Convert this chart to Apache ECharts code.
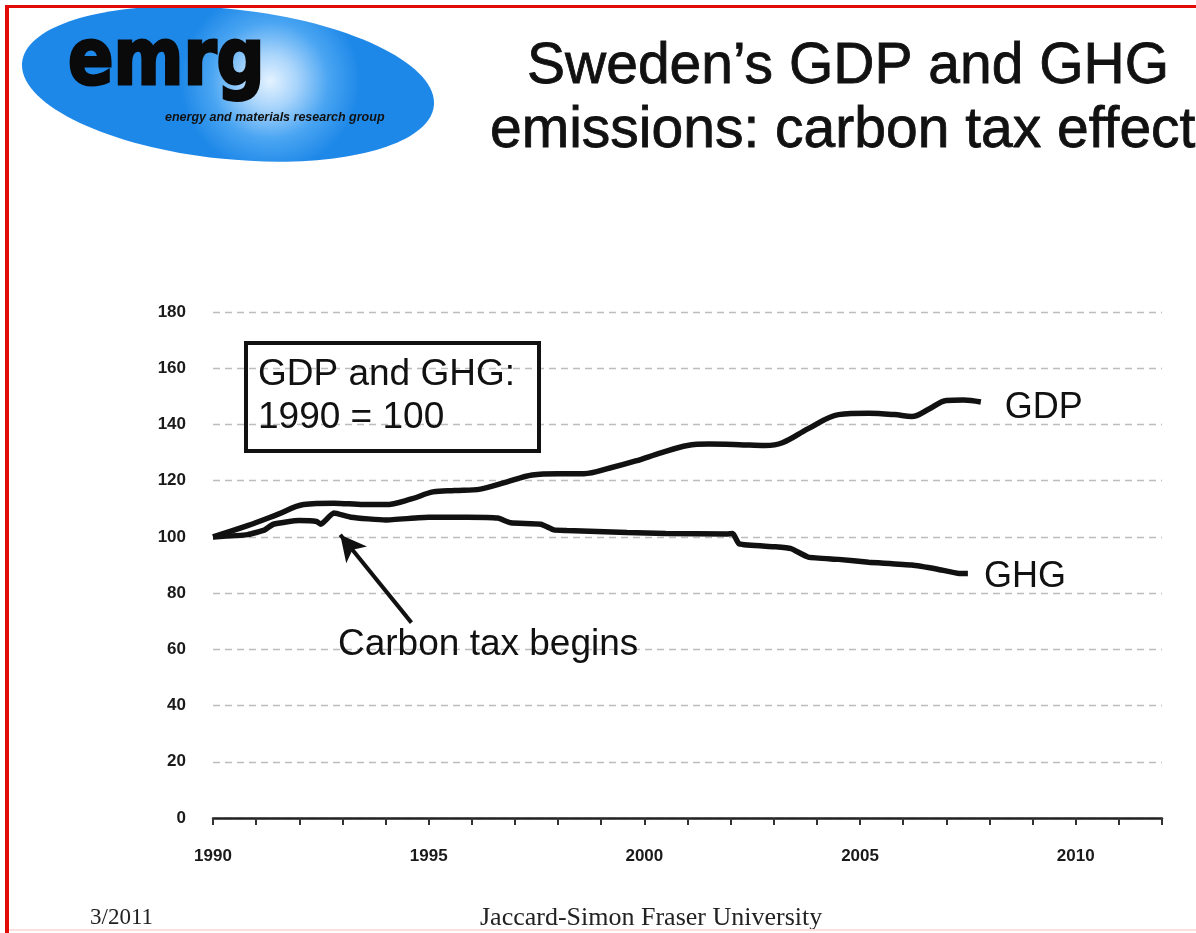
<!DOCTYPE html>
<html>
<head>
<meta charset="utf-8">
<script src="https://cdn.jsdelivr.net/npm/echarts@6/dist/echarts.min.js"></script>
<style>
html,body{margin:0;padding:0;background:#fff;}
#chart{width:1196px;height:933px;}
</style>
</head>
<body>
<div id="chart"></div>
<script>
// ---- data ----
var gdpYears = [1990, 1990.8, 1991.5, 1992.1, 1992.8, 1993.5, 1994.0, 1994.6, 1995.1, 1995.6, 1996.2, 1996.8, 1997.4, 1998.0, 1998.6, 1999.2, 1999.8, 2000.4, 2001.0, 2001.5, 2002.2, 2002.8, 2003.2, 2003.8, 2004.5, 2005.2, 2005.8, 2006.2, 2006.6, 2007.0, 2007.4, 2007.8];
var gdpValues = [100, 104, 108, 111.5, 112, 111.5, 111.5, 113.5, 116, 116.5, 117, 119.5, 122, 122.5, 122.5, 124.5, 127, 130, 132.5, 133, 132.8, 132.5, 133.5, 138.5, 143.5, 144, 143.5, 142.8, 145.5, 148.5, 148.7, 148];
var ghgYears = [1990, 1990.8, 1991.2, 1991.4, 1992.0, 1992.4, 1992.5, 1992.8, 1993.2, 1994.0, 1995.0, 1995.9, 1996.6, 1996.9, 1997.6, 1997.9, 1998.2, 1999.6, 2000.5, 2001.9, 2002.05, 2002.2, 2003.0, 2003.4, 2003.8, 2004.5, 2005.2, 2006.2, 2006.8, 2007.3, 2007.5];
var ghgValues = [100, 100.8, 102.5, 104.5, 105.8, 105.5, 104.5, 108.5, 107, 106, 107, 107, 106.7, 105, 104.5, 102.5, 102.3, 101.6, 101.2, 101, 101.2, 97.5, 96.5, 95.8, 92.8, 92, 91, 90, 88.5, 87, 87];
var xTickLabels = ['1990', '1995', '2000', '2005', '2010'];
var yTickLabels = ['0', '20', '40', '60', '80', '100', '120', '140', '160', '180'];
var seriesNames = ['GDP', 'GHG'];
var arrowFrom = [1994.6, 69.5];
var arrowTo = [1992.95, 100.8];

function pairs(xs, ys) { return xs.map(function (x, i) { return [x, ys[i]]; }); }

var chart = echarts.init(document.getElementById('chart'));
var option = {
  backgroundColor: '#ffffff',
  animation: false,
  grid: { left: 213, right: 34, top: 312, bottom: 115 },
  xAxis: {
    type: 'value', min: 1990, max: 2012, interval: 1,
    axisLine: { show: true, lineStyle: { color: '#222', width: 2.5 } },
    axisTick: { show: true, length: 7, lineStyle: { color: '#333', width: 2 } },
    splitLine: { show: false },
    axisLabel: {
      margin: 30, color: '#1a1a1a', fontFamily: 'Liberation Sans, Arial', fontWeight: 'bold', fontSize: 17,
      formatter: function (v) { var s = String(v); return xTickLabels.indexOf(s) >= 0 ? s : ''; }
    }
  },
  yAxis: {
    type: 'value', min: 0, max: 180, interval: 20,
    axisLine: { show: false }, axisTick: { show: false },
    splitLine: { show: true, lineStyle: { color: '#bdbdbd', type: [7, 5], width: 1.3 } },
    axisLabel: {
      margin: 27, color: '#1a1a1a', fontFamily: 'Liberation Sans, Arial', fontWeight: 'bold', fontSize: 17,
      formatter: function (v) { var s = String(v); return yTickLabels.indexOf(s) >= 0 ? s : ''; }
    }
  },
  series: [
    {
      name: seriesNames[0], type: 'line', data: pairs(gdpYears, gdpValues),
      smooth: 0.35, showSymbol: false, lineStyle: { color: '#111', width: 5.5 },
      endLabel: { show: true, formatter: seriesNames[0], distance: 24, offset: [0, 6],
        color: '#111', fontFamily: 'Liberation Sans, Arial', fontSize: 36 }
    },
    {
      name: seriesNames[1], type: 'line', data: pairs(ghgYears, ghgValues),
      smooth: 0.15, showSymbol: false, lineStyle: { color: '#111', width: 5.5 },
      endLabel: { show: true, formatter: seriesNames[1], distance: 16, offset: [0, 4],
        color: '#111', fontFamily: 'Liberation Sans, Arial', fontSize: 36 },
      markLine: {
        silent: true, animation: false,
        lineStyle: { color: '#111', width: 4, type: 'solid' },
        label: { show: false },
        symbolSize: [20, 26],
        data: [[{ coord: arrowFrom, symbol: 'none' }, { coord: arrowTo, symbol: 'arrow' }]]
      }
    }
  ],
  graphic: [
    // red slide border
    { type: 'rect', shape: { x: 5, y: 5, width: 1191, height: 3 }, style: { fill: '#e30a0a' }, z: 100 },
    { type: 'rect', shape: { x: 5, y: 5, width: 4, height: 928 }, style: { fill: '#e30a0a' }, z: 100 },
    { type: 'rect', shape: { x: 9, y: 929, width: 1187, height: 2 }, style: { fill: '#fbdede' }, z: 100 },
    // logo
    {
      type: 'ellipse', x: 228, y: 84, rotation: -0.105,
      shape: { cx: 0, cy: 0, rx: 207, ry: 75 },
      style: { fill: { type: 'radial', x: 0.6, y: 0.45, r: 0.6, colorStops: [
        { offset: 0, color: '#e4f2ff' }, { offset: 0.3, color: '#a8d4fb' },
        { offset: 0.65, color: '#4aa5f2' }, { offset: 1, color: '#1e88e8' }] } },
      z: 50
    },
    {
      type: 'text', x: 68, y: 64, scaleX: 0.86, z: 60,
      style: { text: 'emrg', fill: '#0a0a0a', stroke: '#0a0a0a', lineWidth: 3,
        font: 'bold 78px "DejaVu Sans"', align: 'left', verticalAlign: 'middle' }
    },
    {
      type: 'text', x: 165, y: 118, z: 60,
      style: { text: 'energy and materials research group', fill: '#111',
        font: 'italic bold 12.5px "Liberation Sans"', align: 'left', verticalAlign: 'middle' }
    },
    // title
    {
      type: 'text', x: 527, y: 67, z: 60,
      style: { text: 'Sweden\u2019s GDP and GHG', fill: '#111', stroke: '#111', lineWidth: 0.8,
        font: '57px "Liberation Sans"', align: 'left', verticalAlign: 'middle' }
    },
    {
      type: 'text', x: 490, y: 131, z: 60,
      style: { text: 'emissions: carbon tax effect', fill: '#111', stroke: '#111', lineWidth: 0.8,
        font: '57px "Liberation Sans"', align: 'left', verticalAlign: 'middle' }
    },
    // note box
    { type: 'rect', shape: { x: 246, y: 343, width: 293, height: 108 },
      style: { fill: 'none', stroke: '#111', lineWidth: 4 }, z: 60 },
    {
      type: 'text', x: 258, y: 375, z: 60,
      style: { text: 'GDP and GHG:', fill: '#111', font: '37px "Liberation Sans"', align: 'left', verticalAlign: 'middle' }
    },
    {
      type: 'text', x: 258, y: 418, z: 60,
      style: { text: '1990 = 100', fill: '#111', font: '37px "Liberation Sans"', align: 'left', verticalAlign: 'middle' }
    },
    {
      type: 'text', x: 338, y: 645, z: 60,
      style: { text: 'Carbon tax begins', fill: '#111', font: '37px "Liberation Sans"', align: 'left', verticalAlign: 'middle' }
    },
    // footer
    {
      type: 'text', x: 90, y: 918, z: 60,
      style: { text: '3/2011', fill: '#222', font: '23px "Liberation Serif"', align: 'left', verticalAlign: 'middle' }
    },
    {
      type: 'text', x: 480, y: 918, z: 60,
      style: { text: 'Jaccard-Simon Fraser University', fill: '#222', font: '26px "Liberation Serif"', align: 'left', verticalAlign: 'middle' }
    }
  ]
};
chart.setOption(option);
</script>
</body>
</html>
